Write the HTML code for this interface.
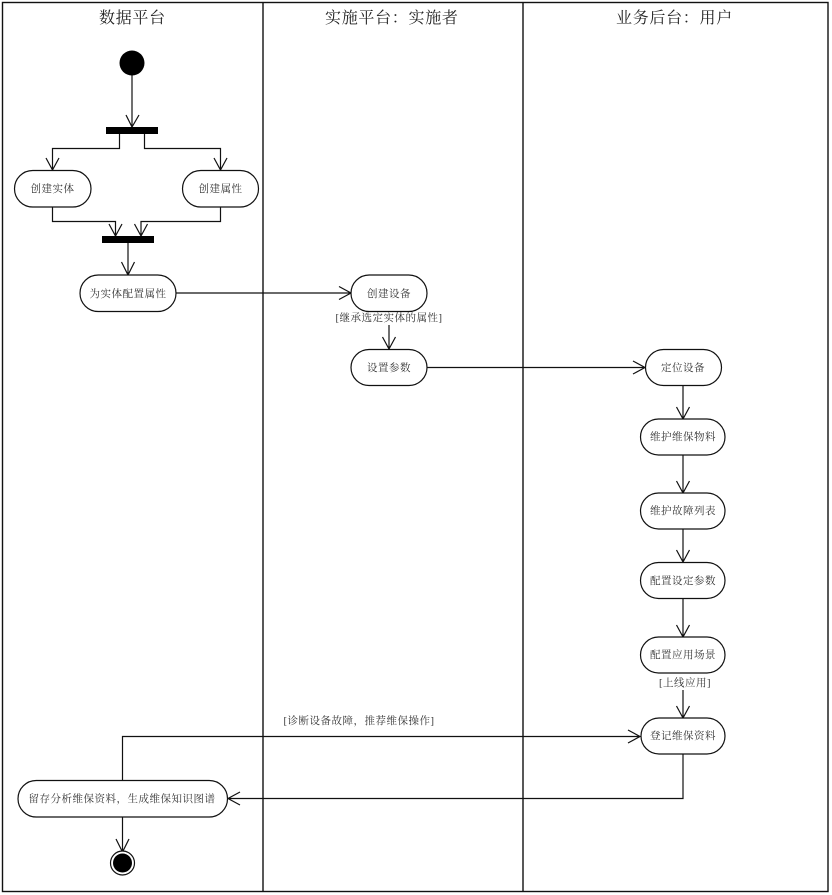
<!DOCTYPE html>
<html><head><meta charset="utf-8"><style>
html,body{margin:0;padding:0;background:#fff;width:832px;height:895px;overflow:hidden}
svg{display:block}
text{font-family:"Liberation Serif","Noto Serif CJK SC",serif;fill:#333;text-anchor:middle}
.t{font-size:16px;letter-spacing:.7px;fill:#222;text-anchor:start}
.n{font-size:10.5px;letter-spacing:.5px}
.l{fill:none;stroke:#111;stroke-width:1.2}
.p{fill:#fff;stroke:#111;stroke-width:1.2}
</style></head><body>
<svg width="832" height="895" viewBox="0 0 832 895" xmlns="http://www.w3.org/2000/svg">
<rect x="2.5" y="2.5" width="825.5" height="889" fill="#fff" stroke="#111" stroke-width="1.4"/>
<path d="M263 2.5V891.5M523 2.5V891.5" stroke="#111" stroke-width="1.4" fill="none"/>
<text class="t" x="99" y="23">数据平台</text>
<text class="t" x="325" y="23">实施平台：实施者</text>
<text class="t" x="616" y="23">业务后台：用户</text>

<g class="l">
<path d="M132 75V127M126 115L132 127L139 115"/>
<path d="M119.5 134V148.5H52.5V170M46 158L52.5 170L59 158"/>
<path d="M144.5 134V148.5H220.5V170M214 158L220.5 170L227 158"/>
<path d="M52.5 207V221.5H115.5V236M109 224L115.5 236L122 224"/>
<path d="M220.5 207V221.5H141V236M134.500 224L141 236L147.500 224"/>
<path d="M128 243V275M121.500 262L128 275L134.500 262"/>
<path d="M176 293H351M339 286.500L351 293L339 299.500"/>
<path d="M389 325V349M382.500 337L389 349L395.500 337"/>
<path d="M427 367.500H645M633 361L645 367.500L633 374"/>
<path d="M683 385V419M676.500 407L683 419L689.500 407"/>
<path d="M683 455V493M676.500 481L683 493L689.500 481"/>
<path d="M683 529V562M676.500 550L683 562L689.500 550"/>
<path d="M683 598V637M676.500 625L683 637L689.500 625"/>
<path d="M683 690V718M676.500 706L683 718L689.500 706"/>
<path d="M683 754V798.500H228M240 792L228 798.500L240 805"/>
<path d="M122.500 780V736.500H640M628 730L640 736.500L628 743"/>
<path d="M122.500 817V852M116 839L122.500 852L129 839"/>
</g>

<circle cx="132" cy="63" r="12.5" fill="#000"/>
<rect x="106" y="127" width="52" height="7" fill="#000"/>
<rect x="102" y="236" width="52" height="7" fill="#000"/>
<circle cx="122.500" cy="863" r="12" fill="#fff" stroke="#111" stroke-width="1.2"/>
<circle cx="122.500" cy="863" r="9.500" fill="#000"/>

<rect class="p" x="14.500" y="170.500" width="76.500" height="36.500" rx="18.250"/>
<rect class="p" x="182.500" y="170.500" width="76" height="36.500" rx="18.250"/>
<rect class="p" x="80" y="275" width="96" height="36.500" rx="18.250"/>
<rect class="p" x="351" y="275" width="76" height="36.500" rx="18.250"/>
<rect class="p" x="351" y="349.500" width="76" height="36" rx="18"/>
<rect class="p" x="645.500" y="349.500" width="76" height="36" rx="18"/>
<rect class="p" x="640.500" y="419" width="84.500" height="36" rx="18"/>
<rect class="p" x="640.500" y="493" width="84.500" height="36" rx="18"/>
<rect class="p" x="640.500" y="562.500" width="84.500" height="36" rx="18"/>
<rect class="p" x="640.500" y="637" width="84.500" height="36" rx="18"/>
<rect class="p" x="641" y="718" width="84" height="36" rx="18"/>
<rect class="p" x="18" y="780.500" width="209.500" height="36.500" rx="18.250"/>

<text class="n" x="52.500" y="192">创建实体</text>
<text class="n" x="220.500" y="192">创建属性</text>
<text class="n" x="128" y="297">为实体配置属性</text>
<text class="n" x="389" y="297">创建设备</text>
<text class="n" x="389" y="371">设置参数</text>
<text class="n" x="683" y="371">定位设备</text>
<text class="n" x="683" y="440">维护维保物料</text>
<text class="n" x="683" y="514">维护故障列表</text>
<text class="n" x="683" y="584">配置设定参数</text>
<text class="n" x="683" y="658">配置应用场景</text>
<text class="n" x="683" y="739">登记维保资料</text>
<text class="n" x="122" y="802" letter-spacing=".8">留存分析维保资料，生成维保知识图谱</text>
<text class="n" x="389" y="321">[继承选定实体的属性]</text>
<text class="n" x="685" y="686">[上线应用]</text>
<text class="n" x="359" y="724" letter-spacing="1">[诊断设备故障，推荐维保操作]</text>
</svg>
</body></html>
